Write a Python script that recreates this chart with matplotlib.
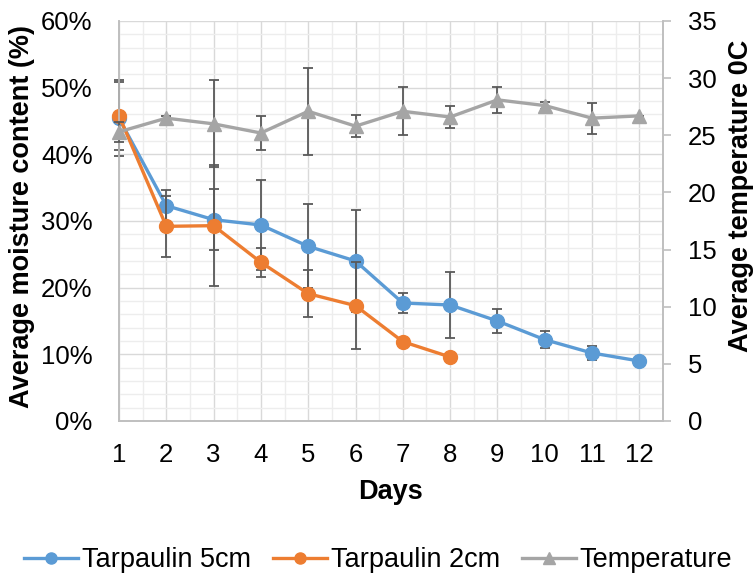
import numpy as np
import matplotlib
matplotlib.use("Agg")
import matplotlib.pyplot as plt
from matplotlib.lines import Line2D
from matplotlib.ticker import MultipleLocator, PercentFormatter

plt.rcParams['font.family'] = ['Liberation Sans', 'DejaVu Sans']

# ------------------------------
# data
# ------------------------------
days = [1, 2, 3, 4, 5, 6, 7, 8, 9, 10, 11, 12]

tarp5_mc = [45.4, 32.3, 30.2, 29.4, 26.2, 24.0, 17.7, 17.4, 15.0, 12.2, 10.2, 9.0]
tarp5_err = [5.7, 2.4, 4.6, 6.8, 6.3, 7.6, 1.5, 5.0, 1.8, 1.3, 1.1, 0.0]

tarp2_days = [1, 2, 3, 4, 5, 6, 7, 8]
tarp2_mc = [45.8, 29.2, 29.3, 23.8, 19.1, 17.3, 11.9, 9.6]
tarp2_err = [5.1, 4.6, 9.1, 2.2, 3.5, 6.5, 0.4, 0.0]

temp = [25.3, 26.5, 26.0, 25.2, 27.1, 25.8, 27.1, 26.6, 28.1, 27.6, 26.5, 26.7]
temp_err = [0.9, 0.2, 3.8, 1.45, 3.8, 0.95, 2.1, 1.0, 1.15, 0.3, 1.35, 0.0]

labels = ["Tarpaulin 5cm", "Tarpaulin 2cm", "Temperature"]
colors = ["#5B9BD5", "#ED7D31", "#A5A5A5"]
markers = ["o", "o", "^"]
ERR_COLOR = "#595959"
GRID_MAJOR = "#D9D9D9"
GRID_MINOR = "#EDEDED"
SPINE = "#BFBFBF"

# ------------------------------
# figure
# ------------------------------
fig = plt.figure(figsize=(7.54, 5.78), dpi=100)
ax = fig.add_axes([119 / 754, 1 - 421 / 578, 544 / 754, 400 / 578])
ax2 = ax.twinx()

err_kw = dict(ecolor=ERR_COLOR, elinewidth=1.3, capsize=3.5, capthick=1.3)

containers = [
    ax.errorbar(days, tarp5_mc, yerr=tarp5_err, color=colors[0], lw=2.4,
                marker=markers[0], ms=10, zorder=3, **err_kw),
    ax.errorbar(tarp2_days, tarp2_mc, yerr=tarp2_err, color=colors[1], lw=2.4,
                marker=markers[1], ms=10, zorder=4, **err_kw),
    ax2.errorbar(days, temp, yerr=temp_err, color=colors[2], lw=2.4,
                 marker=markers[2], ms=10, zorder=3, **err_kw),
]
# let the day-1 markers / bars sit on the axis without clipping
for c in containers:
    for child in c.get_children():
        child.set_clip_on(False)

# axes ranges
ax.set_xlim(1, 12.5)
ax.set_ylim(0, 60)
ax2.set_ylim(0, 35)

ax.set_xticks(days)
ax.xaxis.set_minor_locator(MultipleLocator(0.5))
ax.yaxis.set_major_locator(MultipleLocator(10))
ax.yaxis.set_minor_locator(MultipleLocator(2))
ax.yaxis.set_major_formatter(PercentFormatter(decimals=0))
ax2.yaxis.set_major_locator(MultipleLocator(5))

# grid
ax.set_axisbelow(True)
ax.grid(which="minor", color=GRID_MINOR, lw=1.0)
ax.grid(which="major", color=GRID_MAJOR, lw=1.0)

# spines / ticks
for a in (ax, ax2):
    a.spines["top"].set_visible(False)
    for s in ("left", "right", "bottom"):
        a.spines[s].set_color(SPINE)
        a.spines[s].set_linewidth(1.2)

ax.tick_params(axis="both", which="both", length=0, labelsize=18.5, colors="black")
ax.tick_params(axis="x", pad=16)
ax.tick_params(axis="y", pad=19)
ax2.tick_params(axis="y", which="major", length=6, width=1.2, color=SPINE,
                labelsize=18.5, pad=12, direction="out")
ax2.tick_params(axis="y", which="minor", length=0)

# axis titles
fig.text(22 / 754, 1 - 216 / 578, "Average moisture content (%)", rotation=90,
         ha="center", va="center", fontsize=19.5, fontweight="bold")
fig.text(741 / 754, 1 - 196 / 578, "Average temperature 0C", rotation=90,
         ha="center", va="center", fontsize=19.5, fontweight="bold")
fig.text(391 / 754, 1 - 492 / 578, "Days", ha="center", va="center",
         fontsize=19.5, fontweight="bold")

# legend (plain line + marker handles, no error bars)
handles = [Line2D([], [], color=c, lw=2.4, marker=m, ms=8)
           for c, m in zip(colors, markers)]
fig.legend(handles, labels, loc="center", bbox_to_anchor=(378 / 754, 1 - 560 / 578),
           ncol=3, frameon=False, fontsize=19.5, handlelength=2.0, handletextpad=0.15,
           columnspacing=0.8)

fig.savefig("out.png", dpi=100)
